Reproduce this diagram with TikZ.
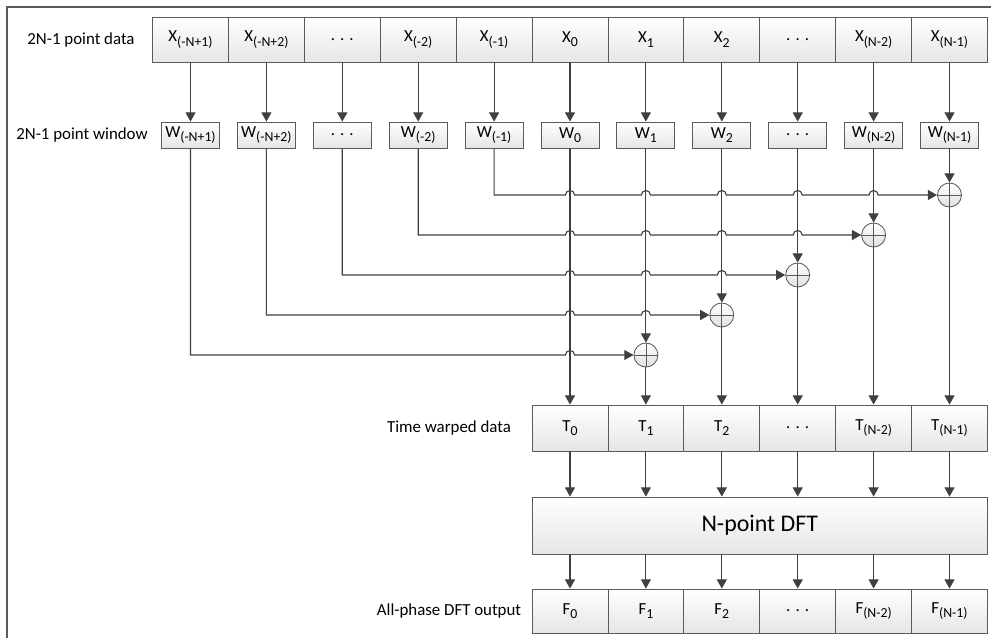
\documentclass[tikz,border=0pt]{standalone}
\usepackage{fontspec}
\setmainfont{Carlito}
\usepackage{tikz}
\usetikzlibrary{arrows.meta, positioning}

\definecolor{boxline}{HTML}{5A5A5A}
\definecolor{wireline}{HTML}{404040}
\newcommand{\lowsub}[1]{\raisebox{-3pt}{\fontsize{9.8}{11}\selectfont #1}}

\begin{document}
\begin{tikzpicture}[
    x=0.025cm, y=-0.025cm,
    font=\fontsize{12}{14}\selectfont,
    cell/.style={draw=boxline, line width=0.6pt, top color=white, bottom color=black!10,
        minimum width=1.8975cm, minimum height=1.125cm, inner sep=0pt, align=center},
    win/.style={cell, minimum width=1.45cm, minimum height=0.65cm},
    adder/.style={circle, draw=boxline, line width=0.6pt, top color=white, bottom color=black!12,
        minimum size=0.6cm, inner sep=0pt,
        path picture={\draw[boxline, line width=0.5pt]
            (path picture bounding box.north) -- (path picture bounding box.south)
            (path picture bounding box.west) -- (path picture bounding box.east);}},
    dftbox/.style={cell, minimum width=11.385cm, minimum height=1.425cm, font=\fontsize{17}{20}\selectfont},
    rowlabel/.style={inner sep=0pt},
    arrow/.style={-{Triangle[length=2.3mm, width=2.5mm]}, line width=0.8pt, draw=wireline}
]
\useasboundingbox (0,0) rectangle (991,638);

% Frame
\draw[boxline, line width=1pt] (7,638) -- (7,7) -- (991,7);

% Row labels
\node[rowlabel] (lbldata) at (81,39.5) {2N-1 point data};
\node[rowlabel] (lblwin) at (82,135) {2N-1 point window};
\node[rowlabel] (lbltw) at (449,428) {Time warped data};
\node[rowlabel] (lblout) at (449,611) {All-phase DFT output};

% Data
\node[cell] (d0) at (190.5,39.5) {X\lowsub{(-N+1)}};
\node[cell] (d1) at (266.4,39.5) {X\lowsub{(-N+2)}};
\node[cell] (d2) at (342.3,39.5) {. . .};
\node[cell] (d3) at (418.2,39.5) {X\lowsub{(-2)}};
\node[cell] (d4) at (494.1,39.5) {X\lowsub{(-1)}};
\node[cell] (d5) at (570.0,39.5) {X\lowsub{0}};
\node[cell] (d6) at (645.9,39.5) {X\lowsub{1}};
\node[cell] (d7) at (721.8,39.5) {X\lowsub{2}};
\node[cell] (d8) at (797.7,39.5) {. . .};
\node[cell] (d9) at (873.6,39.5) {X\lowsub{(N-2)}};
\node[cell] (d10) at (949.5,39.5) {X\lowsub{(N-1)}};

% Window
\node[win] (w0) at (190.5,135) {W\lowsub{(-N+1)}};
\node[win] (w1) at (266.4,135) {W\lowsub{(-N+2)}};
\node[win] (w2) at (342.3,135) {. . .};
\node[win] (w3) at (418.2,135) {W\lowsub{(-2)}};
\node[win] (w4) at (494.1,135) {W\lowsub{(-1)}};
\node[win] (w5) at (570.0,135) {W\lowsub{0}};
\node[win] (w6) at (645.9,135) {W\lowsub{1}};
\node[win] (w7) at (721.8,135) {W\lowsub{2}};
\node[win] (w8) at (797.7,135) {. . .};
\node[win] (w9) at (873.6,135) {W\lowsub{(N-2)}};
\node[win] (w10) at (949.5,135) {W\lowsub{(N-1)}};

% Adders
\node[adder] (s6) at (645.9,355) {};
\node[adder] (s7) at (721.8,315) {};
\node[adder] (s8) at (797.7,275) {};
\node[adder] (s9) at (873.6,235) {};
\node[adder] (s10) at (949.5,195) {};

% Time warped
\node[cell, minimum height=1.15cm] (t0) at (570.0,428) {T\lowsub{0}};
\node[cell, minimum height=1.15cm] (t1) at (645.9,428) {T\lowsub{1}};
\node[cell, minimum height=1.15cm] (t2) at (721.8,428) {T\lowsub{2}};
\node[cell, minimum height=1.15cm] (t3) at (797.7,428) {. . .};
\node[cell, minimum height=1.15cm] (t4) at (873.6,428) {T\lowsub{(N-2)}};
\node[cell, minimum height=1.15cm] (t5) at (949.5,428) {T\lowsub{(N-1)}};

% DFT
\node[dftbox] (dft) at (759.75,525.5) {N-point DFT};

% Output
\node[cell, minimum height=1.1cm] (f0) at (570.0,611) {F\lowsub{0}};
\node[cell, minimum height=1.1cm] (f1) at (645.9,611) {F\lowsub{1}};
\node[cell, minimum height=1.1cm] (f2) at (721.8,611) {F\lowsub{2}};
\node[cell, minimum height=1.1cm] (f3) at (797.7,611) {. . .};
\node[cell, minimum height=1.1cm] (f4) at (873.6,611) {F\lowsub{(N-2)}};
\node[cell, minimum height=1.1cm] (f5) at (949.5,611) {F\lowsub{(N-1)}};

% Data into window
\draw[arrow] (d0) -- (w0);
\draw[arrow] (d1) -- (w1);
\draw[arrow] (d2) -- (w2);
\draw[arrow] (d3) -- (w3);
\draw[arrow] (d4) -- (w4);
\draw[arrow] (d5) -- (w5);
\draw[arrow] (d6) -- (w6);
\draw[arrow] (d7) -- (w7);
\draw[arrow] (d8) -- (w8);
\draw[arrow] (d9) -- (w9);
\draw[arrow] (d10) -- (w10);

% Folding lines (with hops over the verticals)
\draw[arrow] (w4.south) |- ([xshift=-3.2pt]w5 |- s10) arc[start angle=180, end angle=0, radius=3.2pt]
    -- ([xshift=-3.2pt]w6 |- s10) arc[start angle=180, end angle=0, radius=3.2pt]
    -- ([xshift=-3.2pt]w7 |- s10) arc[start angle=180, end angle=0, radius=3.2pt]
    -- ([xshift=-3.2pt]w8 |- s10) arc[start angle=180, end angle=0, radius=3.2pt]
    -- ([xshift=-3.2pt]w9 |- s10) arc[start angle=180, end angle=0, radius=3.2pt]
    -- (s10.west);
\draw[arrow] (w3.south) |- ([xshift=-3.2pt]w5 |- s9) arc[start angle=180, end angle=0, radius=3.2pt]
    -- ([xshift=-3.2pt]w6 |- s9) arc[start angle=180, end angle=0, radius=3.2pt]
    -- ([xshift=-3.2pt]w7 |- s9) arc[start angle=180, end angle=0, radius=3.2pt]
    -- ([xshift=-3.2pt]w8 |- s9) arc[start angle=180, end angle=0, radius=3.2pt]
    -- (s9.west);
\draw[arrow] (w2.south) |- ([xshift=-3.2pt]w5 |- s8) arc[start angle=180, end angle=0, radius=3.2pt]
    -- ([xshift=-3.2pt]w6 |- s8) arc[start angle=180, end angle=0, radius=3.2pt]
    -- ([xshift=-3.2pt]w7 |- s8) arc[start angle=180, end angle=0, radius=3.2pt]
    -- (s8.west);
\draw[arrow] (w1.south) |- ([xshift=-3.2pt]w5 |- s7) arc[start angle=180, end angle=0, radius=3.2pt]
    -- ([xshift=-3.2pt]w6 |- s7) arc[start angle=180, end angle=0, radius=3.2pt]
    -- (s7.west);
\draw[arrow] (w0.south) |- ([xshift=-3.2pt]w5 |- s6) arc[start angle=180, end angle=0, radius=3.2pt]
    -- (s6.west);

% Window into adders
\draw[arrow] (w5) -- (t0);
\draw[arrow] (w6) -- (s6);
\draw[arrow] (w7) -- (s7);
\draw[arrow] (w8) -- (s8);
\draw[arrow] (w9) -- (s9);
\draw[arrow] (w10) -- (s10);

% Adders into time warped data
\draw[arrow] (s6) -- (t1);
\draw[arrow] (s7) -- (t2);
\draw[arrow] (s8) -- (t3);
\draw[arrow] (s9) -- (t4);
\draw[arrow] (s10) -- (t5);

% DFT
\draw[arrow] (t0) -- (t0 |- dft.north);
\draw[arrow] (t1) -- (t1 |- dft.north);
\draw[arrow] (t2) -- (t2 |- dft.north);
\draw[arrow] (t3) -- (t3 |- dft.north);
\draw[arrow] (t4) -- (t4 |- dft.north);
\draw[arrow] (t5) -- (t5 |- dft.north);
\draw[arrow] (f0 |- dft.south) -- (f0);
\draw[arrow] (f1 |- dft.south) -- (f1);
\draw[arrow] (f2 |- dft.south) -- (f2);
\draw[arrow] (f3 |- dft.south) -- (f3);
\draw[arrow] (f4 |- dft.south) -- (f4);
\draw[arrow] (f5 |- dft.south) -- (f5);

\end{tikzpicture}
\end{document}
